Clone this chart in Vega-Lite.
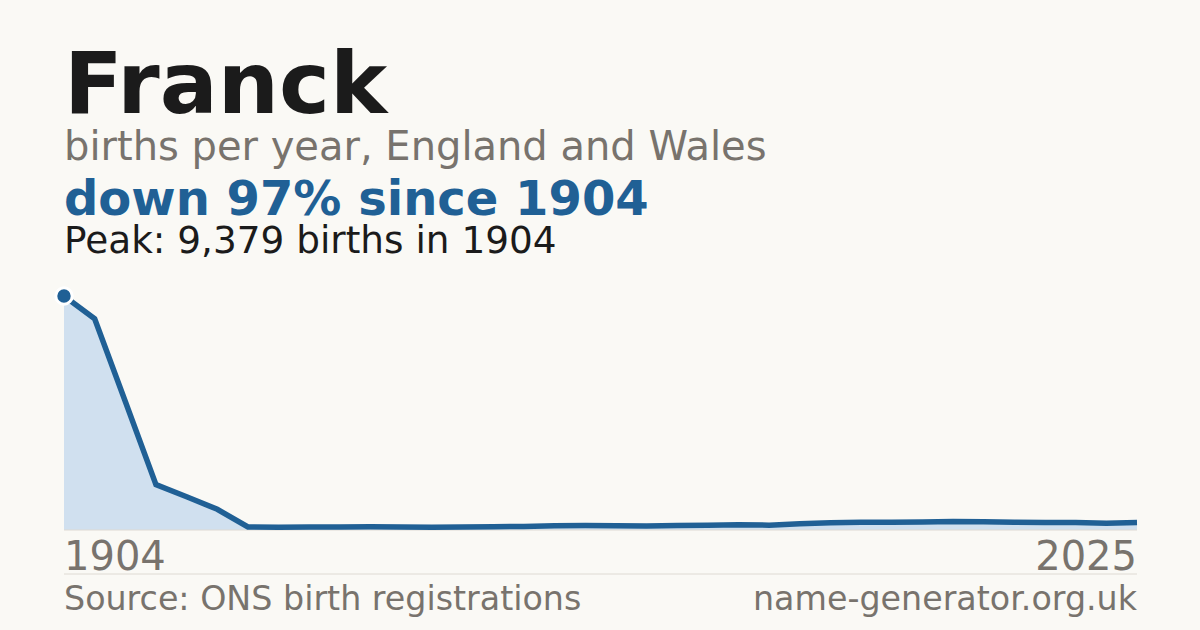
{
  "$schema": "https://vega.github.io/schema/vega-lite/v6.json",
  "width": 1073,
  "height": 234,
  "autosize": {"type": "none"},
  "padding": {"left": 64, "top": 296, "right": 63, "bottom": 100},
  "background": "#faf9f5",
  "config": {
    "view": {"stroke": null},
    "font": "DejaVu Sans"
  },
  "data": {
    "values": [
      {"year": 1904, "births": 9379},
      {"year": 1914, "births": 8470},
      {"year": 1924, "births": 5150},
      {"year": 1934, "births": 1820},
      {"year": 1944, "births": 1330},
      {"year": 1954, "births": 830},
      {"year": 1964, "births": 120},
      {"year": 1974, "births": 115},
      {"year": 1984, "births": 120},
      {"year": 1994, "births": 125},
      {"year": 2000, "births": 130},
      {"year": 2001, "births": 125},
      {"year": 2002, "births": 115},
      {"year": 2003, "births": 120},
      {"year": 2004, "births": 130},
      {"year": 2005, "births": 145},
      {"year": 2006, "births": 170},
      {"year": 2007, "births": 180},
      {"year": 2008, "births": 170},
      {"year": 2009, "births": 165},
      {"year": 2010, "births": 180},
      {"year": 2011, "births": 190},
      {"year": 2012, "births": 210},
      {"year": 2013, "births": 195},
      {"year": 2014, "births": 250},
      {"year": 2015, "births": 290},
      {"year": 2016, "births": 310},
      {"year": 2017, "births": 310},
      {"year": 2018, "births": 320},
      {"year": 2019, "births": 340},
      {"year": 2020, "births": 330},
      {"year": 2021, "births": 310},
      {"year": 2022, "births": 300},
      {"year": 2023, "births": 305},
      {"year": 2024, "births": 275},
      {"year": 2025, "births": 300}
    ]
  },
  "layer": [
    {
      "mark": {"type": "area", "color": "#d0e0ef"},
      "encoding": {
        "x": {"field": "year", "type": "ordinal", "scale": {"type": "point", "padding": 0}, "axis": null},
        "y": {"field": "births", "type": "quantitative", "scale": {"domain": [0, 9379], "nice": false, "zero": true}, "axis": null}
      }
    },
    {
      "data": {"values": [{}]},
      "mark": {"type": "rule", "color": "#dedad3", "strokeWidth": 1},
      "encoding": {
        "x": {"datum": 1904, "type": "ordinal", "axis": null},
        "x2": {"datum": 2025},
        "y": {"datum": 0, "type": "quantitative", "axis": null}
      }
    },
    {
      "mark": {"type": "line", "color": "#206095", "strokeWidth": 5.5},
      "encoding": {
        "x": {"field": "year", "type": "ordinal", "axis": null},
        "y": {"field": "births", "type": "quantitative", "axis": null}
      }
    },
    {
      "transform": [{"filter": "datum.year == 1904"}],
      "mark": {"type": "point", "filled": true, "size": 270, "color": "#206095", "stroke": "#ffffff", "strokeWidth": 3, "opacity": 1},
      "encoding": {
        "x": {"field": "year", "type": "ordinal", "axis": null},
        "y": {"field": "births", "type": "quantitative", "axis": null}
      }
    },
    {
      "data": {"values": [{}]},
      "mark": {"type": "rule", "color": "#dedad3", "strokeWidth": 1},
      "encoding": {
        "x": {"datum": 1904, "type": "ordinal", "axis": null},
        "x2": {"datum": 2025},
        "y": {"datum": -1764, "type": "quantitative", "axis": null}
      }
    },
    {
      "data": {"values": [{}]},
      "mark": {"type": "text", "text": "1904", "fontSize": 40, "color": "#78736d", "align": "left", "baseline": "alphabetic"},
      "encoding": {
        "x": {"datum": 1904, "type": "ordinal", "axis": null},
        "y": {"datum": -1603, "type": "quantitative", "axis": null}
      }
    },
    {
      "data": {"values": [{}]},
      "mark": {"type": "text", "text": "2025", "fontSize": 40, "color": "#78736d", "align": "right", "baseline": "alphabetic"},
      "encoding": {
        "x": {"datum": 2025, "type": "ordinal", "axis": null},
        "y": {"datum": -1603, "type": "quantitative", "axis": null}
      }
    },
    {
      "data": {"values": [{}]},
      "mark": {"type": "text", "text": "Franck", "fontSize": 86, "fontWeight": "bold", "color": "#1b1b1b", "align": "left", "baseline": "alphabetic"},
      "encoding": {
        "x": {"datum": 1904, "type": "ordinal", "axis": null},
        "y": {"datum": 16714, "type": "quantitative", "axis": null}
      }
    },
    {
      "data": {"values": [{}]},
      "mark": {"type": "text", "text": "births per year, England and Wales", "fontSize": 40, "color": "#78736d", "align": "left", "baseline": "alphabetic"},
      "encoding": {
        "x": {"datum": 1904, "type": "ordinal", "axis": null},
        "y": {"datum": 14830, "type": "quantitative", "axis": null}
      }
    },
    {
      "data": {"values": [{}]},
      "mark": {"type": "text", "text": "down 97% since 1904", "fontSize": 48, "fontWeight": "bold", "color": "#206095", "align": "left", "baseline": "alphabetic"},
      "encoding": {
        "x": {"datum": 1904, "type": "ordinal", "axis": null},
        "y": {"datum": 12626, "type": "quantitative", "axis": null}
      }
    },
    {
      "data": {"values": [{}]},
      "mark": {"type": "text", "text": "Peak: 9,379 births in 1904", "fontSize": 37.4, "color": "#1b1b1b", "align": "left", "baseline": "alphabetic"},
      "encoding": {
        "x": {"datum": 1904, "type": "ordinal", "axis": null},
        "y": {"datum": 11103, "type": "quantitative", "axis": null}
      }
    },
    {
      "data": {"values": [{}]},
      "mark": {"type": "text", "text": "Source: ONS birth registrations", "fontSize": 33.3, "color": "#78736d", "align": "left", "baseline": "alphabetic"},
      "encoding": {
        "x": {"datum": 1904, "type": "ordinal", "axis": null},
        "y": {"datum": -3206, "type": "quantitative", "axis": null}
      }
    },
    {
      "data": {"values": [{}]},
      "mark": {"type": "text", "text": "name-generator.org.uk", "fontSize": 33.3, "color": "#78736d", "align": "right", "baseline": "alphabetic"},
      "encoding": {
        "x": {"datum": 2025, "type": "ordinal", "axis": null},
        "y": {"datum": -3206, "type": "quantitative", "axis": null}
      }
    }
  ]
}
